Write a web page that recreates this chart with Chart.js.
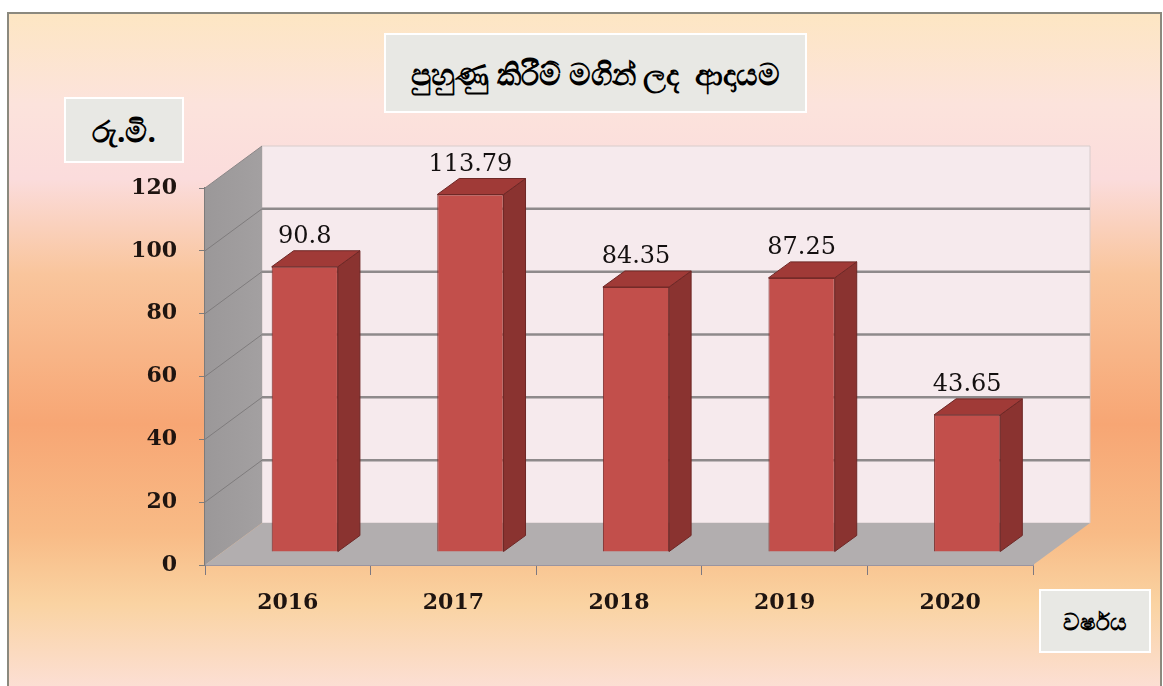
<!DOCTYPE html>
<html>
<head>
<meta charset="utf-8">
<script src="https://cdn.jsdelivr.net/npm/chart.js@4"></script>
<style>
  html, body { margin: 0; padding: 0; background: #ffffff; }
  #page { position: relative; width: 1163px; height: 686px; overflow: hidden; }
  #frame {
    position: absolute; left: 7px; top: 12px; width: 1151px; height: 700px;
    border: 2px solid #8b897e;
    background: linear-gradient(to bottom, #fde6c3 0px, #fce3dc 90px, #fbdcdc 165px, #f9c59c 260px, #f7a674 410px, #f8bb86 520px, #fad3a2 590px, #fce1dc 686px);
  }
  #chart { position: absolute; left: 0; top: 0; }
  .box {
    position: absolute; background: #e8e8e4; border: 2px solid #ffffff;
    display: flex; align-items: center; justify-content: center;
    font-family: "Noto Sans", "DejaVu Sans", sans-serif; font-weight: bold; color: #000;
  }
  #titleBox { left: 384px; top: 33px; width: 419px; height: 76px; font-size: 30px; }
  #unitBox { left: 64px; top: 97px; width: 116px; height: 62px; font-size: 30px; }
  #yearBox { left: 1039px; top: 589px; width: 108px; height: 60px; font-size: 23px; }
</style>
</head>
<body>
<div id="page">
  <div id="frame"></div>
  <canvas id="chart" width="1163" height="686"></canvas>
  <div class="box" id="titleBox">පුහුණු කිරීම් මගින් ලද &nbsp;ආදායම</div>
  <div class="box" id="unitBox">රු.මි.</div>
  <div class="box" id="yearBox">වර්ෂය</div>
</div>

<script>
// ===============================
// DATA
// ===============================
const years = ["2016", "2017", "2018", "2019", "2020"];
const income = [90.8, 113.79, 84.35, 87.25, 43.65];
const incomeLabels = ["90.8", "113.79", "84.35", "87.25", "43.65"];
const yTicks = [0, 20, 40, 60, 80, 100, 120];

// 3D depth offsets
const WALL_DX = 57, WALL_DY = -42;   // back wall
const BAR_DX = 17, BAR_DY = -13;     // bar front plane
const BAR_DEPTH_X = 22, BAR_DEPTH_Y = -16;

function poly(ctx, pts, fill, stroke) {
  ctx.beginPath();
  ctx.moveTo(pts[0][0], pts[0][1]);
  for (let i = 1; i < pts.length; i++) ctx.lineTo(pts[i][0], pts[i][1]);
  ctx.closePath();
  if (fill) { ctx.fillStyle = fill; ctx.fill(); }
  if (stroke) { ctx.strokeStyle = stroke; ctx.lineWidth = 1; ctx.stroke(); }
}

// ===============================
// 3D WALLS + BAR FACES
// ===============================
const box3d = {
  id: "box3d",
  beforeDatasetsDraw(chart) {
    const ctx = chart.ctx;
    const a = chart.chartArea;
    const y = chart.scales.y;
    const yTop = y.getPixelForValue(120);
    const yBot = y.getPixelForValue(0);
    ctx.save();

    // back wall
    poly(ctx, [[a.left + WALL_DX, yTop + WALL_DY], [a.right + WALL_DX, yTop + WALL_DY],
               [a.right + WALL_DX, yBot + WALL_DY], [a.left + WALL_DX, yBot + WALL_DY]], "#f6eaed", "#d8cccc");

    // side wall
    const g = ctx.createLinearGradient(a.left, 0, a.left + WALL_DX, 0);
    g.addColorStop(0, "#9b9899");
    g.addColorStop(1, "#a3a0a1");
    poly(ctx, [[a.left, yTop], [a.left + WALL_DX, yTop + WALL_DY],
               [a.left + WALL_DX, yBot + WALL_DY], [a.left, yBot]], g, null);

    // gridlines on back wall and side wall
    yTicks.forEach(v => {
      if (v === 0 || v === 120) return;
      const py = y.getPixelForValue(v);
      ctx.beginPath();
      ctx.moveTo(a.left + WALL_DX, py + WALL_DY);
      ctx.lineTo(a.right + WALL_DX, py + WALL_DY);
      ctx.strokeStyle = "#8e8a8b";
      ctx.lineWidth = 2.5;
      ctx.stroke();
      ctx.beginPath();
      ctx.moveTo(a.left, py);
      ctx.lineTo(a.left + WALL_DX, py + WALL_DY);
      ctx.strokeStyle = "#7f7c7d";
      ctx.lineWidth = 1;
      ctx.stroke();
    });

    // side wall top edge
    ctx.beginPath();
    ctx.moveTo(a.left, yTop);
    ctx.lineTo(a.left + WALL_DX, yTop + WALL_DY);
    ctx.strokeStyle = "#8a8687";
    ctx.lineWidth = 1;
    ctx.stroke();

    // floor
    poly(ctx, [[a.left, yBot], [a.left + WALL_DX, yBot + WALL_DY],
               [a.right + WALL_DX, yBot + WALL_DY], [a.right, yBot]], "#b2aeaf", null);

    ctx.restore();

    // shift bars to their depth plane
    ctx.save();
    ctx.translate(BAR_DX, BAR_DY);
  },
  afterDatasetsDraw(chart) {
    const ctx = chart.ctx;
    ctx.restore();
    ctx.save();
    const meta = chart.getDatasetMeta(0);
    meta.data.forEach((bar, i) => {
      const left = bar.x - bar.width / 2 + BAR_DX;
      const right = bar.x + bar.width / 2 + BAR_DX;
      const top = bar.y + BAR_DY;
      const bottom = bar.base + BAR_DY;
      // side face
      poly(ctx, [[right, top], [right + BAR_DEPTH_X, top + BAR_DEPTH_Y],
                 [right + BAR_DEPTH_X, bottom + BAR_DEPTH_Y], [right, bottom]], "#8a3330", "#6e2826");
      // top face
      poly(ctx, [[left, top], [left + BAR_DEPTH_X, top + BAR_DEPTH_Y],
                 [right + BAR_DEPTH_X, top + BAR_DEPTH_Y], [right, top]], "#a03a37", "#6e2826");
      // value label
      ctx.font = "24px 'DejaVu Serif'";
      ctx.fillStyle = "#141010";
      ctx.textAlign = "center";
      ctx.textBaseline = "middle";
      ctx.fillText(incomeLabels[i], bar.x + BAR_DX, top - 30);
    });
    ctx.restore();
  }
};

// ===============================
// CHART
// ===============================
const tickFont = { family: "'DejaVu Serif'", size: 22, weight: "bold" };

new Chart(document.getElementById("chart"), {
  type: "bar",
  data: {
    labels: years,
    datasets: [{
      data: income,
      backgroundColor: "#c24f4b",
      borderColor: "#7a2c2a",
      borderWidth: 1,
      barPercentage: 0.8,
      categoryPercentage: 0.5,
      clip: false
    }]
  },
  options: {
    responsive: false,
    animation: false,
    devicePixelRatio: 1,
    layout: { padding: { top: 188, left: 90, right: 130, bottom: 61 } },
    plugins: {
      legend: { display: false },
      title: { display: false },
      tooltip: { enabled: false }
    },
    scales: {
      x: {
        offset: true,
        grid: { drawOnChartArea: false, tickLength: 10, color: "#7d7880", offset: true },
        border: { display: true, color: "#9a94a0", width: 2 },
        ticks: { font: tickFont, color: "#1e1410", padding: 15 },
        afterFit: (scale) => { scale.height = 60; }
      },
      y: {
        min: 0,
        max: 120,
        afterBuildTicks: (scale) => { scale.ticks = yTicks.map(v => ({ value: v })); },
        grid: { drawOnChartArea: false, tickLength: 6, color: "#7d7b7b" },
        border: { display: true, color: "#7d7b7b", width: 1.5 },
        ticks: { font: tickFont, color: "#1e1410", padding: 22 },
        afterFit: (scale) => { scale.width = 115; }
      }
    }
  },
  plugins: [box3d]
});
</script>
</body>
</html>
